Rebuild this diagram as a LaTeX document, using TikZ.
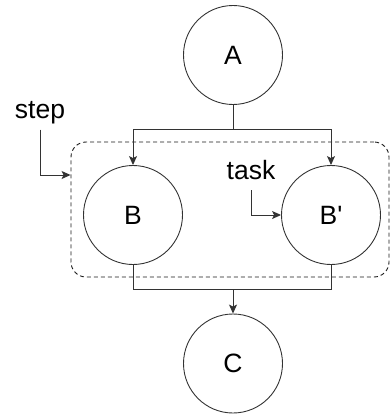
\documentclass[tikz,border=0pt]{standalone}
\usepackage{fontspec}
\setmainfont{Liberation Sans}
\usetikzlibrary{arrows.meta}
\tikzset{
  every node/.style={font=\fontsize{26.5}{30}\selectfont},
  state/.style={circle, draw=black!80, line width=0.9pt, minimum size=99pt, inner sep=0pt},
  lbl/.style={inner sep=0pt, anchor=base},
  conn/.style={draw=black!80, line width=1pt},
  arr/.style={conn, -{Stealth[length=9pt,width=8pt,inset=2pt]}},
  group/.style={draw=black!90, line width=0.9pt, dash pattern=on 4pt off 3pt, rounded corners=15pt, inner sep=0pt}
}
\begin{document}
\begin{tikzpicture}[x=1pt,y=-1pt]
\useasboundingbox (0,0) rectangle (390,420);
\node[group, minimum width=318pt, minimum height=135pt] (grp) at (230,209.5) {};
\node[state] (A) at (233,55) {A};
\node[state] (B) at (133,215) {B};
\node[state] (Bp) at (331,215) {B\textquotesingle};
\node[state] (C) at (233,363.5) {C};
\node[lbl] (step) at (40,118) {step};
\node[lbl] (task) at (251,179) {task};
\coordinate (s1) at (233,129);
\coordinate (s2) at (233,289);
\coordinate (stepend) at (grp.west |- 0,175);
\draw[conn] (A.south) -- (s1);
\draw[arr] (s1) -| (B.north);
\draw[arr] (s1) -| (Bp.north);
\draw[conn] (B.south) |- (s2);
\draw[conn] (Bp.south) |- (s2);
\draw[arr] (s2) -- (C.north);
\draw[arr, shorten <=6pt] (step.south) |- (stepend);
\draw[arr, shorten <=11pt] (task.south) |- (Bp.west);
\end{tikzpicture}
\end{document}
